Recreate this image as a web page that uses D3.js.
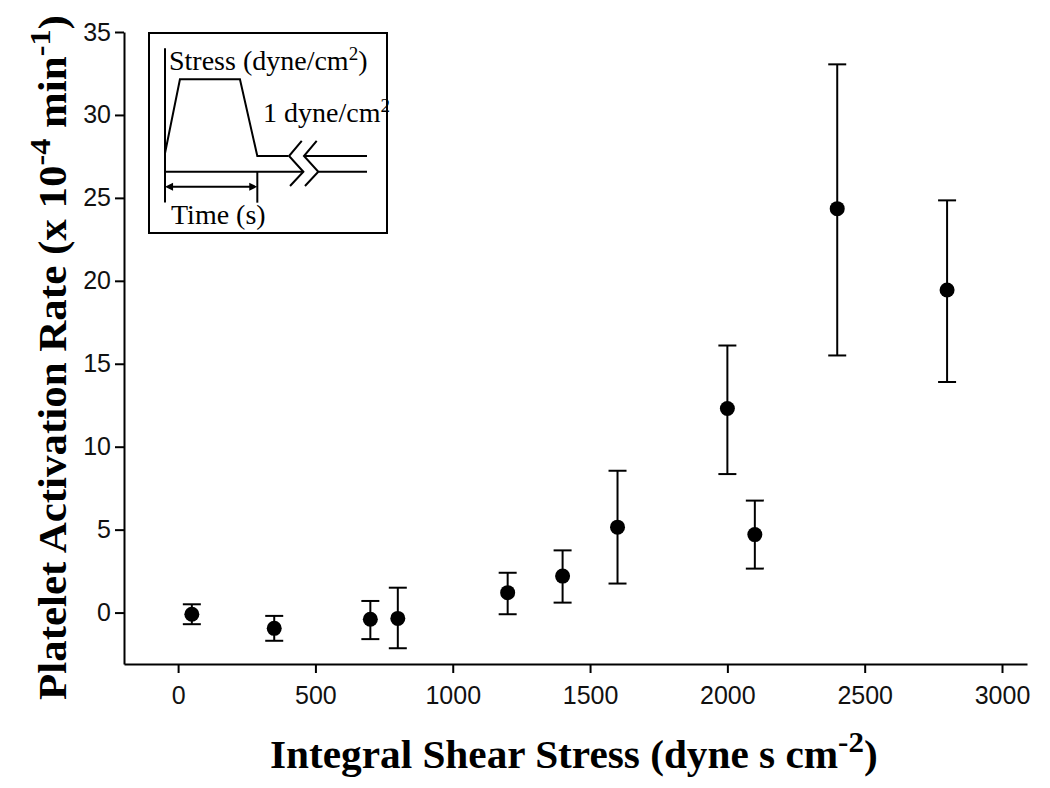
<!DOCTYPE html>
<html>
<head>
<meta charset="utf-8">
<script src="https://cdn.jsdelivr.net/npm/d3@7"></script>
<style>
  body { margin: 0; background: #fff; }
  svg { display: block; }
</style>
</head>
<body>
<div id="chart"></div>
<script>
// data
const shear = [50, 350, 700, 800, 1200, 1400, 1600, 2000, 2100, 2400, 2800];
const rate = [-0.1, -0.95, -0.4, -0.35, 1.2, 2.2, 5.15, 12.3, 4.7, 24.35, 19.45];
const errTop = [0.5, -0.2, 0.7, 1.5, 2.4, 3.75, 8.55, 16.1, 6.75, 33.05, 24.85];
const errBottom = [-0.7, -1.7, -1.6, -2.15, -0.1, 0.6, 1.75, 8.35, 2.65, 15.5, 13.9];

const xTicks = [0, 500, 1000, 1500, 2000, 2500, 3000];
const yTicks = [0, 5, 10, 15, 20, 25, 30, 35];

// inset schematic (normalised time / stress units)
const profileT = [0, 0.074, 0.371, 0.457, 0.61];
const profileS = [0.149, 0.749, 0.749, 0.127, 0.127];
const tailT = [0.688, 1];
const tailS = [0.127, 0.127];

const width = 1050, height = 788;

const svg = d3.select("#chart").append("svg")
  .attr("width", width)
  .attr("height", height);

const x = d3.scaleLinear().domain([-197, 3091]).range([124, 1027]);
const y = d3.scaleLinear().domain([-3.1, 35]).range([664, 32]);

// axes
const xAxis = svg.append("g")
  .attr("transform", "translate(0," + y(-3.1) + ")")
  .call(d3.axisBottom(x).tickValues(xTicks).tickFormat(d3.format("d"))
    .tickSize(9).tickSizeOuter(0).tickPadding(13));

const yAxis = svg.append("g")
  .attr("transform", "translate(" + x(-197) + ",0)")
  .call(d3.axisLeft(y).tickValues(yTicks).tickFormat(d3.format("d"))
    .tickSize(9).tickSizeOuter(0).tickPadding(4));

[xAxis, yAxis].forEach(function(g) {
  g.selectAll("path, line").attr("stroke", "#000").attr("stroke-width", 2);
  g.selectAll("text")
    .attr("fill", "#111")
    .style("font-family", "'Liberation Sans', Arial, sans-serif")
    .style("font-size", "25px");
});

// error bars
const pts = shear.map(function(s, i) {
  return { x: s, y: rate[i], hi: errTop[i], lo: errBottom[i] };
});

const bars = svg.append("g").attr("stroke", "#000").attr("stroke-width", 2);
bars.selectAll(".stem").data(pts).enter().append("line")
  .attr("x1", d => x(d.x)).attr("x2", d => x(d.x))
  .attr("y1", d => y(d.hi)).attr("y2", d => y(d.lo));
bars.selectAll(".capT").data(pts).enter().append("line")
  .attr("x1", d => x(d.x) - 9).attr("x2", d => x(d.x) + 9)
  .attr("y1", d => y(d.hi)).attr("y2", d => y(d.hi));
bars.selectAll(".capB").data(pts).enter().append("line")
  .attr("x1", d => x(d.x) - 9).attr("x2", d => x(d.x) + 9)
  .attr("y1", d => y(d.lo)).attr("y2", d => y(d.lo));

svg.append("g").selectAll("circle").data(pts).enter().append("circle")
  .attr("cx", d => x(d.x))
  .attr("cy", d => y(d.y))
  .attr("r", 7.5)
  .attr("fill", "#000");

// axis titles
const titleFont = "'Liberation Serif', 'Times New Roman', serif";

const xt = svg.append("text")
  .style("font-family", titleFont)
  .style("font-weight", "bold")
  .style("font-size", "40px")
  .attr("fill", "#000");
xt.append("tspan").text("Integral Shear Stress (dyne s cm");
xt.append("tspan").attr("dy", -16).style("font-size", "30px").text("-2");
xt.append("tspan").attr("dy", 16).text(")");
let w = xt.node().getBBox().width;
xt.attr("transform", "translate(270,768) scale(" + (608 / w) + ",1)");

const yt = svg.append("text")
  .style("font-family", titleFont)
  .style("font-weight", "bold")
  .style("font-size", "40px")
  .attr("fill", "#000");
yt.append("tspan").text("Platelet Activation Rate (x 10");
yt.append("tspan").attr("dy", -16).style("font-size", "30px").text("-4");
yt.append("tspan").attr("dy", 16).text(" min");
yt.append("tspan").attr("dy", -16).style("font-size", "30px").text("-1");
yt.append("tspan").attr("dy", 16).text(")");
w = yt.node().getBBox().width;
yt.attr("transform", "translate(66,700) rotate(-90) scale(" + (685 / w) + ",1)");

// inset
const inset = svg.append("g");
inset.append("rect")
  .attr("x", 149).attr("y", 33).attr("width", 238).attr("height", 200)
  .attr("fill", "#fff").attr("stroke", "#000").attr("stroke-width", 2);

const ix = d3.scaleLinear().domain([0, 1]).range([165, 367]);
const iy = d3.scaleLinear().domain([0, 1]).range([171.7, 48.3]);
const line = d3.line().x(d => ix(d[0])).y(d => iy(d[1]));

const ink = inset.append("g").attr("fill", "none").attr("stroke", "#000").attr("stroke-width", 2);
ink.append("path").attr("d", line(profileT.map((t, i) => [t, profileS[i]])));
ink.append("path").attr("d", line(tailT.map((t, i) => [t, tailS[i]])));
// vertical stress axis
ink.append("path").attr("d", line([[0, -0.25], [0, 1]]));
// time axis with break
ink.append("path").attr("d", line([[0, 0], [0.685, 0]]));
ink.append("path").attr("d", line([[0.76, 0], [1, 0]]));
// break chevrons
[0, 0.074].forEach(function(o) {
  ink.append("path").attr("d", line([[0.677 + o, 0.249], [0.614 + o, 0.127], [0.685 + o, 0], [0.619 + o, -0.116]]));
});
// duration marker
ink.append("path").attr("d", line([[0.457, 0], [0.457, -0.251]]));
ink.append("path").attr("d", line([[0.03, -0.122], [0.427, -0.122]]));

const head = inset.append("g").attr("fill", "#000");
head.append("path").attr("d", line([[0, -0.122], [0.04, -0.09], [0.04, -0.154]]) + "Z");
head.append("path").attr("d", line([[0.457, -0.122], [0.417, -0.09], [0.417, -0.154]]) + "Z");

const insetText = inset.append("g")
  .style("font-family", titleFont)
  .style("font-size", "28px")
  .attr("fill", "#000");

const t1 = insetText.append("text").attr("x", 169).attr("y", 70);
t1.append("tspan").text("Stress (dyne/cm");
t1.append("tspan").attr("dy", -10).style("font-size", "19px").text("2");
t1.append("tspan").attr("dy", 10).text(")");

const t2 = insetText.append("text").attr("x", 263).attr("y", 122);
t2.append("tspan").text("1 dyne/cm");
t2.append("tspan").attr("dy", -10).style("font-size", "19px").text("2");

insetText.append("text").attr("x", 171).attr("y", 224).text("Time (s)");
</script>
</body>
</html>
